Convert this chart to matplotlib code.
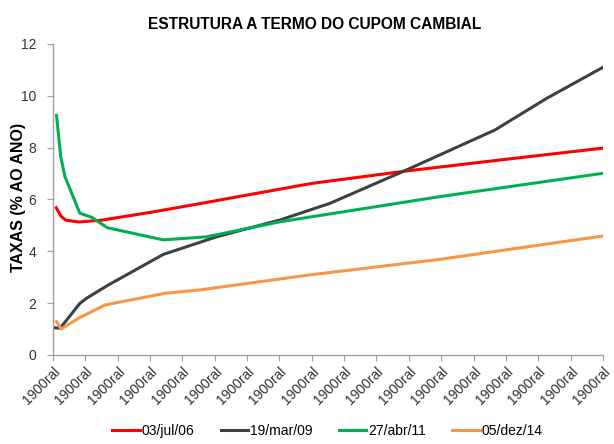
import matplotlib
matplotlib.use("Agg")
import matplotlib.pyplot as plt

plt.rcParams['font.family'] = ['Liberation Sans', 'DejaVu Sans']

title = "ESTRUTURA A TERMO DO CUPOM CAMBIAL"
ylabel = "TAXAS (% AO ANO)"
xtick_labels = ["1900ral"] * 18

series_names = ["03/jul/06", "19/mar/09", "27/abr/11", "05/dez/14"]

x_red = [0.1, 0.25, 0.4, 0.8, 1.5, 3.0, 4.5, 6.0, 8.0, 11.0, 14.0, 17.0]
y_red = [5.68, 5.35, 5.20, 5.13, 5.20, 5.50, 5.83, 6.17, 6.62, 7.11, 7.55, 7.98]

x_gray = [0.06, 0.22, 0.83, 1.04, 1.71, 3.41, 5.06, 7.02, 8.56, 10.93, 13.66, 15.26, 17.0]
y_gray = [1.05, 1.03, 1.99, 2.19, 2.70, 3.88, 4.56, 5.21, 5.85, 7.14, 8.68, 9.90, 11.10]

x_green = [0.11, 0.24, 0.37, 0.83, 1.20, 1.68, 3.41, 4.75, 7.02, 11.96, 17.0]
y_green = [9.24, 7.65, 6.88, 5.47, 5.31, 4.91, 4.44, 4.56, 5.14, 6.11, 7.01]

x_orange = [0.11, 0.25, 0.78, 1.61, 3.46, 4.54, 7.94, 11.96, 15.26, 17.0]
y_orange = [1.29, 1.00, 1.41, 1.93, 2.38, 2.51, 3.09, 3.69, 4.28, 4.59]

colors = ["#FF0000", "#404040", "#00B050", "#F79646"]

fig = plt.figure(figsize=(6.14, 4.44), dpi=100)
ax = fig.add_axes([0.0863, 0.2005, 0.8957, 0.7005])

for xs, ys, c, n in zip([x_red, x_gray, x_green, x_orange],
                        [y_red, y_gray, y_green, y_orange], colors, series_names):
    ax.plot(xs, ys, color=c, lw=2.2, label=n, solid_joinstyle='round')

ax.set_xlim(0, 17)
ax.set_ylim(0, 12)
ax.set_yticks(range(0, 13, 2))
ax.set_xticks(range(18))
ax.set_xticklabels(xtick_labels, rotation=45, ha='right', rotation_mode='anchor',
                   fontsize=10, color='#333333')
ax.tick_params(axis='y', labelsize=10, colors='#333333', length=4, color='#A0A0A0', pad=8)
ax.tick_params(axis='x', length=4, color='#A0A0A0', pad=3)

for s in ['top', 'right']:
    ax.spines[s].set_visible(False)
for s in ['left', 'bottom']:
    ax.spines[s].set_color('#A0A0A0')
    ax.spines[s].set_linewidth(1.0)

fig.text(0.512, 0.944, title, ha='center', va='center', fontsize=11.2, fontweight='bold')
fig.text(0.03, 0.555, ylabel, ha='center', va='center', rotation=90,
         fontsize=11.5, fontweight='bold')

fig.legend(loc='center', bbox_to_anchor=(0.533, 0.029), ncol=4, frameon=False,
           fontsize=10, handlelength=2.0, handletextpad=0.1, columnspacing=1.9)

fig.savefig("out.png", dpi=100)
